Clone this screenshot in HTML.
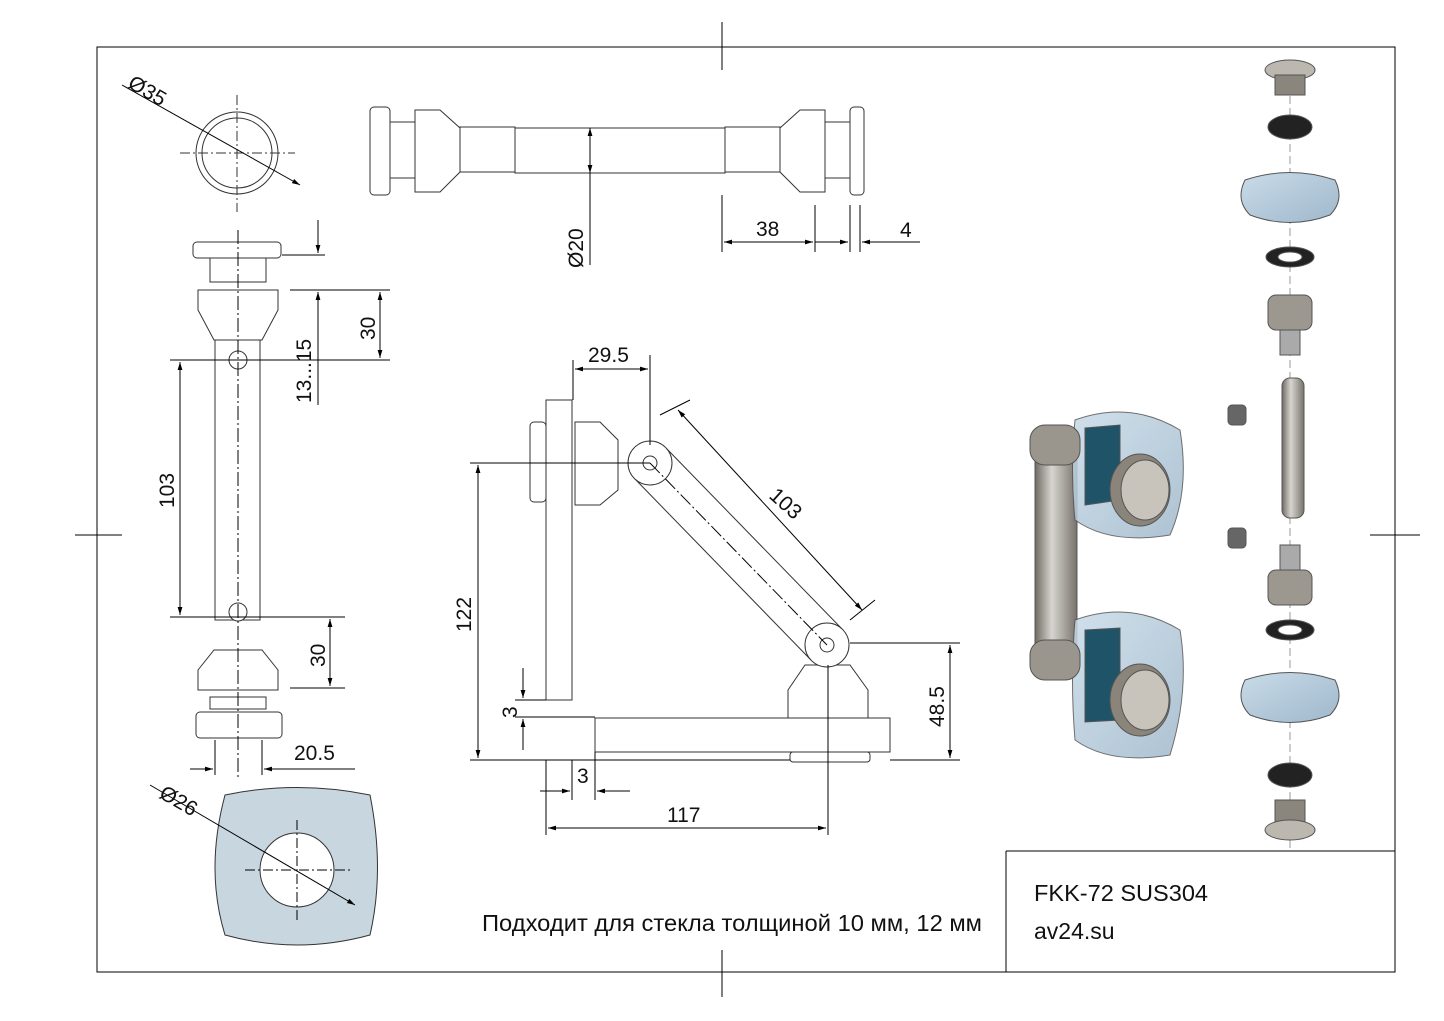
<!DOCTYPE html>
<html><head><meta charset="utf-8"><style>
html,body{margin:0;padding:0;background:#fff}
svg{display:block}
text{font-family:"Liberation Sans",Arial,sans-serif;fill:#111}
</style></head><body>
<svg width="1444" height="1021" viewBox="0 0 1444 1021" xmlns="http://www.w3.org/2000/svg">
<defs>
<marker id="a" viewBox="0 0 10 10" refX="10" refY="5" markerWidth="10" markerHeight="8" orient="auto-start-reverse"><path d="M0,2 L10,5 L0,8z" fill="#000"/></marker>
<linearGradient id="met" x1="0" y1="0" x2="1" y2="0"><stop offset="0" stop-color="#6f6a63"/><stop offset=".4" stop-color="#d8d5d0"/><stop offset="1" stop-color="#77726b"/></linearGradient>
<linearGradient id="glass" x1="0" y1="0" x2="1" y2="1"><stop offset="0" stop-color="#c9dbe8"/><stop offset="1" stop-color="#9fb8cc"/></linearGradient>
</defs>
<g stroke="#000" stroke-width="1" fill="none">
<rect x="97" y="47" width="1298" height="925"/>
<line x1="722" y1="22" x2="722" y2="70"/><line x1="722" y1="950" x2="722" y2="997"/>
<line x1="75" y1="535" x2="122" y2="535"/><line x1="1370" y1="535" x2="1420" y2="535"/>
<line x1="1006" y1="851" x2="1006" y2="972"/><line x1="1006" y1="851" x2="1395" y2="851"/>
</g>
<g stroke="#333" fill="none" stroke-width="1">
<circle cx="237" cy="153" r="41"/><circle cx="237" cy="153" r="35"/>
<line x1="237" y1="95" x2="237" y2="212" stroke-dasharray="10 3 2 3"/><line x1="180" y1="153" x2="295" y2="153" stroke-dasharray="10 3 2 3"/>
<line x1="122" y1="85" x2="300" y2="185" stroke="#000" marker-end="url(#a)"/>
</g>
<text x="128" y="98" font-size="21" transform="rotate(30 148 90)">Ø35</text>
<g stroke="#333" fill="#fff" stroke-width="1">
<rect x="370" y="107" width="20" height="88" rx="4"/><rect x="390" y="122" width="25" height="56"/>
<path d="M415 110 L440 110 L460 128 L460 172 L440 192 L415 192z"/>
<rect x="460" y="127" width="55" height="45"/>
<rect x="515" y="128" width="210" height="45"/>
<rect x="725" y="127" width="55" height="45"/>
<path d="M780 128 L800 110 L825 110 L825 192 L800 192 L780 172z"/>
<rect x="825" y="122" width="25" height="56"/><rect x="850" y="107" width="14" height="88" rx="4"/>
</g>
<g stroke="#000" fill="none">
<line x1="590" y1="128" x2="590" y2="173" marker-start="url(#a)" marker-end="url(#a)"/>
<line x1="590" y1="173" x2="590" y2="265"/>
<line x1="722" y1="195" x2="722" y2="252"/><line x1="815" y1="205" x2="815" y2="252"/><line x1="850" y1="205" x2="850" y2="252"/><line x1="860" y1="205" x2="860" y2="252"/>
<line x1="724" y1="242" x2="813" y2="242" marker-start="url(#a)" marker-end="url(#a)"/>
<line x1="815" y1="242" x2="848" y2="242" marker-end="url(#a)"/><line x1="920" y1="242" x2="862" y2="242" marker-end="url(#a)"/>
</g>
<text x="756" y="236" font-size="21">38</text><text x="900" y="237" font-size="21">4</text>
<text font-size="21" transform="translate(583 268) rotate(-90)">Ø20</text>
<g stroke="#333" fill="#fff">
<rect x="193" y="242" width="88" height="16" rx="4"/><rect x="210" y="258" width="56" height="24"/>
<path d="M198 290 L278 290 L278 310 L262 340 L214 340 L198 310z"/>
<rect x="215" y="340" width="45" height="280"/>
<circle cx="238" cy="360" r="9"/><circle cx="238" cy="612" r="9"/>
<path d="M214 650 L262 650 L278 670 L278 690 L198 690 L198 670z"/>
<rect x="210" y="697" width="56" height="12"/><rect x="196" y="712" width="86" height="26" rx="4"/>
</g>
<g stroke="#000" fill="none">
<line x1="238" y1="230" x2="238" y2="780" stroke-dasharray="14 3 2 3"/>
<line x1="170" y1="360" x2="390" y2="360"/><line x1="170" y1="617" x2="345" y2="617"/>
<line x1="180" y1="362" x2="180" y2="615" marker-start="url(#a)" marker-end="url(#a)"/>
<line x1="290" y1="290" x2="390" y2="290"/><line x1="282" y1="255" x2="325" y2="255"/>
<line x1="380" y1="292" x2="380" y2="358" marker-start="url(#a)" marker-end="url(#a)"/>
<line x1="318" y1="220" x2="318" y2="253" marker-end="url(#a)"/><line x1="318" y1="405" x2="318" y2="292" marker-end="url(#a)"/>
<line x1="290" y1="688" x2="345" y2="688"/>
<line x1="330" y1="619" x2="330" y2="686" marker-start="url(#a)" marker-end="url(#a)"/>
<line x1="215" y1="740" x2="215" y2="775"/><line x1="262" y1="740" x2="262" y2="775"/>
<line x1="190" y1="769" x2="213" y2="769" marker-end="url(#a)"/><line x1="355" y1="769" x2="264" y2="769" marker-end="url(#a)"/>
</g>
<text font-size="21" transform="translate(174 508) rotate(-90)">103</text>
<text font-size="21" transform="translate(375 340) rotate(-90)">30</text>
<text font-size="21" transform="translate(311 403) rotate(-90)">13...15</text>
<text font-size="21" transform="translate(325 667) rotate(-90)">30</text>
<text x="294" y="760" font-size="21">20.5</text>
<path d="M225 795 Q297 780 370 795 Q385 870 370 935 Q297 955 225 935 Q205 870 225 795z" fill="#c8d6df" stroke="#333"/>
<circle cx="297" cy="870" r="37" fill="#fff" stroke="#333"/>
<g stroke="#000" fill="none"><line x1="297" y1="820" x2="297" y2="920" stroke-dasharray="10 3 2 3"/><line x1="245" y1="870" x2="350" y2="870" stroke-dasharray="10 3 2 3"/>
<line x1="150" y1="785" x2="355" y2="905" marker-end="url(#a)"/></g>
<text font-size="21" transform="translate(158 797) rotate(30)">Ø26</text>
<g stroke="#333" fill="#fff">
<rect x="546" y="400" width="26" height="300"/>
<rect x="530" y="422" width="16" height="80" rx="4"/>
<path d="M575 422 L600 422 L618 440 L618 490 L600 505 L575 505z"/>
<path d="M666 448 L843 630 L811 660 L634 478z"/>
<circle cx="650" cy="463" r="22"/><circle cx="650" cy="463" r="7"/>
<path d="M805 665 L850 665 L868 690 L868 718 L788 718 L788 690z"/>
<circle cx="827" cy="645" r="22"/><circle cx="827" cy="645" r="7"/>
<rect x="595" y="718" width="295" height="34"/>
<rect x="790" y="752" width="80" height="10" rx="3"/>
</g>
<g stroke="#000" fill="none">
<line x1="650" y1="463" x2="827" y2="645" stroke-dasharray="14 3 2 3"/>
<line x1="470" y1="463" x2="650" y2="463"/><line x1="470" y1="760" x2="790" y2="760"/>
<line x1="478" y1="465" x2="478" y2="758" marker-start="url(#a)" marker-end="url(#a)"/>
<line x1="573" y1="360" x2="573" y2="400"/><line x1="650" y1="355" x2="650" y2="445"/>
<line x1="575" y1="369" x2="648" y2="369" marker-start="url(#a)" marker-end="url(#a)"/>
<line x1="660" y1="415" x2="690" y2="400"/><line x1="850" y1="620" x2="875" y2="600"/>
<line x1="678" y1="410" x2="862" y2="610" marker-start="url(#a)" marker-end="url(#a)"/>
<line x1="850" y1="643" x2="960" y2="643"/><line x1="890" y1="760" x2="960" y2="760"/>
<line x1="950" y1="645" x2="950" y2="758" marker-start="url(#a)" marker-end="url(#a)"/>
<line x1="515" y1="700" x2="546" y2="700"/><line x1="515" y1="717" x2="595" y2="717"/>
<line x1="523" y1="668" x2="523" y2="698" marker-end="url(#a)"/><line x1="523" y1="750" x2="523" y2="719" marker-end="url(#a)"/>
<line x1="546" y1="760" x2="546" y2="835"/><line x1="572" y1="760" x2="572" y2="800"/><line x1="595" y1="752" x2="595" y2="800"/><line x1="828" y1="665" x2="828" y2="835"/>
<line x1="540" y1="791" x2="570" y2="791" marker-end="url(#a)"/><line x1="630" y1="791" x2="597" y2="791" marker-end="url(#a)"/>
<line x1="548" y1="828" x2="826" y2="828" marker-start="url(#a)" marker-end="url(#a)"/>
</g>
<text x="588" y="362" font-size="21">29.5</text>
<text font-size="21" transform="translate(768 497) rotate(42)">103</text>
<text font-size="21" transform="translate(471 632) rotate(-90)">122</text>
<text font-size="21" transform="translate(517 718) rotate(-90)">3</text>
<text x="577" y="783" font-size="21">3</text>
<text x="667" y="822" font-size="21">117</text>
<text font-size="21" transform="translate(944 727) rotate(-90)">48.5</text>
<g stroke="#555">
<rect x="1035" y="440" width="42" height="230" rx="16" fill="url(#met)"/>
<path d="M1075 420 Q1130 400 1180 430 Q1190 490 1170 535 Q1110 545 1075 520 Q1070 470 1075 420z" fill="url(#glass)" opacity=".85"/>
<path d="M1085 428 L1120 425 L1120 500 L1085 505z" fill="#1f5367"/>
<ellipse cx="1140" cy="490" rx="30" ry="36" fill="#8a847a"/><ellipse cx="1145" cy="490" rx="24" ry="30" fill="#c9c4bb"/>
<path d="M1075 620 Q1130 600 1180 630 Q1190 690 1170 755 Q1110 765 1075 740 Q1070 680 1075 620z" fill="url(#glass)" opacity=".85"/>
<path d="M1085 630 L1120 628 L1120 720 L1085 722z" fill="#1f5367"/>
<ellipse cx="1140" cy="700" rx="30" ry="36" fill="#8a847a"/><ellipse cx="1145" cy="700" rx="24" ry="30" fill="#c9c4bb"/>
<rect x="1030" y="425" width="50" height="40" rx="15" fill="#9a958d"/>
<rect x="1030" y="640" width="50" height="40" rx="15" fill="#9a958d"/>
</g>
<g stroke="#555">
<line x1="1290" y1="60" x2="1290" y2="850" stroke="#999" stroke-dasharray="8 4"/>
<ellipse cx="1290" cy="70" rx="25" ry="10" fill="#bcb8b0"/><rect x="1275" y="75" width="30" height="20" fill="#8a857d"/>
<ellipse cx="1290" cy="127" rx="22" ry="12" fill="#222"/>
<path d="M1245 180 Q1290 165 1335 180 Q1345 200 1330 215 Q1290 230 1250 215 Q1235 200 1245 180z" fill="url(#glass)"/>
<ellipse cx="1290" cy="257" rx="24" ry="10" fill="#222"/><ellipse cx="1290" cy="257" rx="12" ry="5" fill="#fff"/>
<rect x="1268" y="295" width="44" height="35" rx="8" fill="#9c978f"/><rect x="1280" y="330" width="20" height="25" fill="#aaa"/>
<rect x="1282" y="378" width="22" height="140" rx="8" fill="url(#met)"/>
<rect x="1228" y="405" width="18" height="20" rx="4" fill="#666"/><rect x="1228" y="528" width="18" height="20" rx="4" fill="#666"/>
<rect x="1280" y="545" width="20" height="25" fill="#aaa"/><rect x="1268" y="570" width="44" height="35" rx="8" fill="#9c978f"/>
<ellipse cx="1290" cy="630" rx="24" ry="10" fill="#222"/><ellipse cx="1290" cy="630" rx="12" ry="5" fill="#fff"/>
<path d="M1245 680 Q1290 665 1335 680 Q1345 700 1330 715 Q1290 730 1250 715 Q1235 700 1245 680z" fill="url(#glass)"/>
<ellipse cx="1290" cy="775" rx="22" ry="12" fill="#222"/>
<rect x="1275" y="800" width="30" height="25" fill="#8a857d"/><ellipse cx="1290" cy="830" rx="25" ry="10" fill="#bcb8b0"/>
</g>
<text x="482" y="931" font-size="23" textLength="500" lengthAdjust="spacingAndGlyphs">Подходит для стекла толщиной 10 мм, 12 мм</text>
<text x="1034" y="901" font-size="23" textLength="174" lengthAdjust="spacingAndGlyphs">FKK-72 SUS304</text>
<text x="1034" y="939" font-size="23">av24.su</text>
</svg>
</body></html>
